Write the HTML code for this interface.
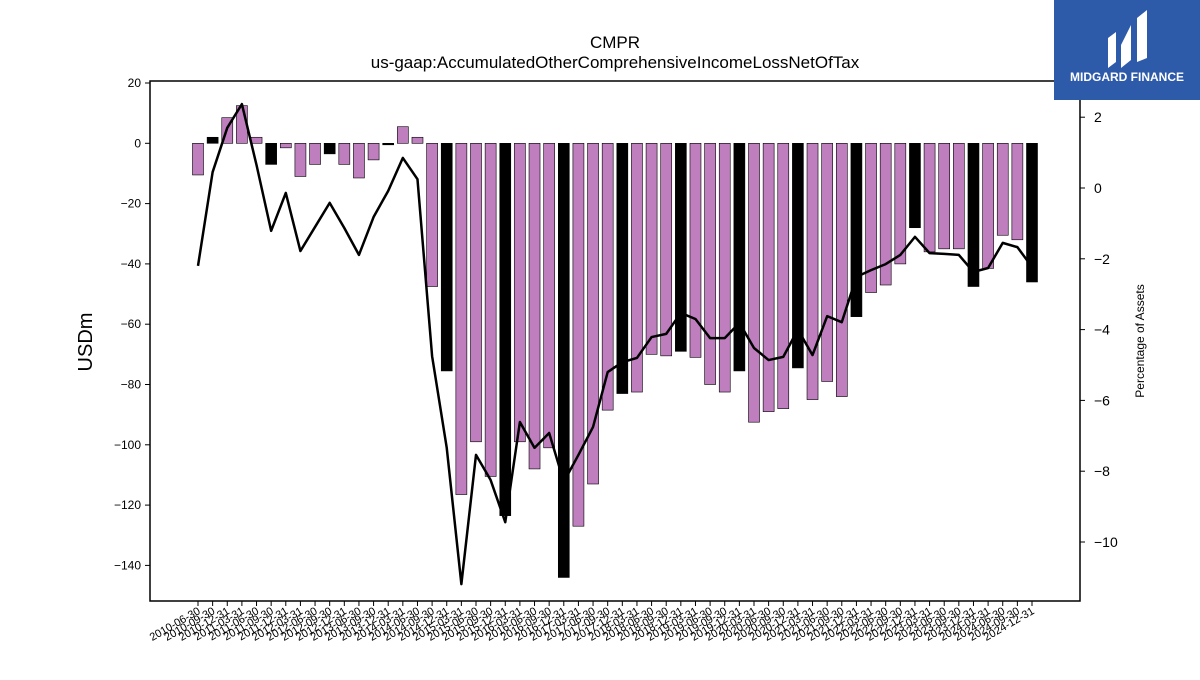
<!DOCTYPE html>
<html><head><meta charset="utf-8"><style>
body{margin:0;background:#fff;font-family:"Liberation Sans",sans-serif}
</style></head><body>
<svg id="chart" width="1200" height="675" xmlns="http://www.w3.org/2000/svg" font-family="Liberation Sans, sans-serif">
<text x="615" y="48" text-anchor="middle" font-size="17">CMPR</text>
<text x="615" y="68" text-anchor="middle" font-size="17">us-gaap:AccumulatedOtherComprehensiveIncomeLossNetOfTax</text>
<g id="plot"></g>
<rect x="150" y="81" width="930" height="520" fill="none" stroke="#000" stroke-width="1.5"/>
<text transform="translate(92,342) rotate(-90)" text-anchor="middle" font-size="20">USDm</text>
<text transform="translate(1144,341) rotate(-90)" text-anchor="middle" font-size="12">Percentage of Assets</text>
<g>
<rect x="1054" y="0" width="146" height="100" fill="#2d5aa9"/>
<path d="M1108 68 L1108 38 L1116 32 L1116 62 Z M1121 68 L1121 45 L1131 25 L1131 60 Z M1137 62 L1137 18 L1147 10 L1147 58 Z" fill="#fff"/>
<text x="1127" y="81" text-anchor="middle" fill="#fff" font-size="12" font-weight="bold">MIDGARD FINANCE</text>
</g>
</svg>
<script>
const categories=["2010-06-30","2010-09-30","2010-12-31","2011-03-31","2011-06-30","2011-09-30","2011-12-31","2012-03-31","2012-06-30","2012-09-30","2012-12-31","2013-06-30","2013-09-30","2013-12-31","2014-03-31","2014-06-30","2014-09-30","2014-12-31","2015-03-31","2015-06-30","2015-09-30","2015-12-31","2016-03-31","2016-06-30","2016-09-30","2016-12-31","2017-03-31","2017-06-30","2017-09-30","2017-12-31","2018-03-31","2018-06-30","2018-09-30","2018-12-31","2019-03-31","2019-06-30","2019-09-30","2019-12-31","2020-03-31","2020-06-30","2020-09-30","2020-12-31","2021-03-31","2021-06-30","2021-09-30","2021-12-31","2022-03-31","2022-06-30","2022-09-30","2022-12-31","2023-03-31","2023-06-30","2023-09-30","2023-12-31","2024-03-31","2024-06-30","2024-09-30","2024-12-31"];
const usdValues=[-10.5,2,8.5,12.5,2,-7,-1.5,-11,-7,-3.5,-7,-11.5,-5.5,-0.5,5.5,2,-47.5,-75.5,-116.5,-99,-110.5,-123.5,-99,-108,-101,-144,-127,-113,-88.5,-83,-82.5,-70,-70.5,-69,-71,-80,-82.5,-75.5,-92.5,-89,-88,-74.5,-85,-79,-84,-57.5,-49.5,-47,-40,-28,-36,-35,-35,-47.5,-41.5,-30.5,-32,-46];
const pctValues=[-2.2,0.45,1.7,2.37,0.65,-1.21,-0.14,-1.78,-1.1,-0.42,-1.13,-1.89,-0.82,-0.08,0.85,0.25,-4.75,-7.34,-11.19,-7.54,-8.25,-9.44,-6.61,-7.34,-6.92,-8.3,-7.54,-6.75,-5.2,-4.92,-4.8,-4.21,-4.12,-3.53,-3.7,-4.24,-4.24,-3.81,-4.52,-4.86,-4.77,-4.0,-4.72,-3.62,-3.79,-2.51,-2.32,-2.15,-1.89,-1.38,-1.84,-1.86,-1.89,-2.37,-2.26,-1.55,-1.67,-2.23];
const yTicks=[20,0,-20,-40,-60,-80,-100,-120,-140];
const y2Ticks=[2,0,-2,-4,-6,-8,-10];
const NS="http://www.w3.org/2000/svg";
const g=document.getElementById('plot');
const x0=198,x1=1032;
const xs=i=>x0+(x1-x0)*i/(categories.length-1);
const ys=v=>143.3-v*3.015;
const y2s=v=>188-v*35.4;
function mk(t,a){const e=document.createElementNS(NS,t);for(const k in a)e.setAttribute(k,a[k]);g.appendChild(e);return e;}
const bw=11;
usdValues.forEach((v,i)=>{
 const black=(i%4===1);
 const r=mk('rect',{x:xs(i)-bw/2,y:Math.min(ys(v),ys(0)),width:bw,height:Math.abs(ys(v)-ys(0)),fill:black?'#000':'#bf7fbf',stroke:'#000','stroke-width':0.6});
 
 
});
const pts=pctValues.map((v,i)=>xs(i)+','+y2s(v)).join(' ');
const ln=mk('polyline',{points:pts,fill:'none',stroke:'#000','stroke-width':2.5,'stroke-linejoin':'round'});


yTicks.forEach(v=>{
 const y=ys(v);
 const t=mk('line',{x1:145,x2:150,y1:y,y2:y,stroke:'#000'});
 
 
 const l=mk('text',{x:141,y:y+4,'text-anchor':'end','font-size':12});
 l.textContent=v===0?'0':(v<0?'\u2212'+(-v):v);
 
 
});
y2Ticks.forEach(v=>{
 const y=y2s(v);
 const t=mk('line',{x1:1080,x2:1085,y1:y,y2:y,stroke:'#000'});
 
 
 const l=mk('text',{x:1094,y:y+5,'font-size':14});
 l.textContent=v===0?'0':(v<0?'\u2212'+(-v):v);
 
 
});
categories.forEach((c,i)=>{
 const x=xs(i);
 const t=mk('line',{x1:x,x2:x,y1:601,y2:606,stroke:'#000'});
 
 
 const l=mk('text',{transform:`translate(${x+3},${613}) rotate(-30)`,'text-anchor':'end','font-size':11});
 l.textContent=c;
 
 
});
</script>
</body></html>
